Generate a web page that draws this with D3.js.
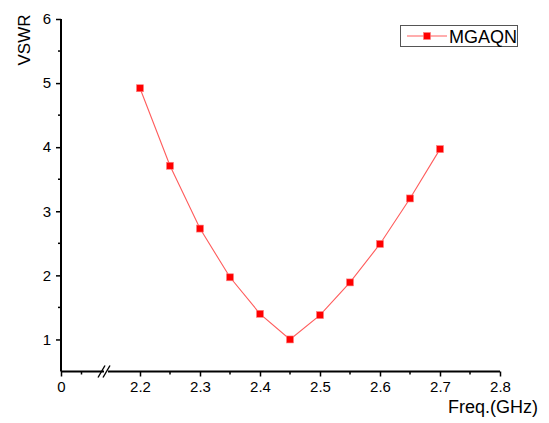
<!DOCTYPE html>
<html>
<head>
<meta charset="utf-8">
<script src="https://cdn.jsdelivr.net/npm/d3@7"></script>
<style>
  body { margin: 0; background: #fff; }
  text { font-family: "Liberation Sans", Arial, sans-serif; fill: #000; }
</style>
</head>
<body>
<div id="chart"></div>
<script>
const freq = [2.2, 2.25, 2.3, 2.35, 2.4, 2.45, 2.5, 2.55, 2.6, 2.65, 2.7],
    vswr = [4.92, 3.71, 2.73, 1.97, 1.40, 1.00, 1.38, 1.89, 2.49, 3.20, 3.97],
    xMajor = [0, 2.2, 2.3, 2.4, 2.5, 2.6, 2.7, 2.8],
    xMinor = [0.05, 2.25, 2.35, 2.45, 2.55, 2.65, 2.75],
    yMajor = [1, 2, 3, 4, 5, 6],
    yMinor = [1.5, 2.5, 3.5, 4.5, 5.5],
    seriesName = "MGAQN";

const width = 549, height = 423;

const svg = d3.select("#chart").append("svg")
    .attr("width", width)
    .attr("height", height);

// broken x axis: 0..0.1 then 2.15..2.8
const x = d3.scaleLinear()
    .domain([0, 0.1, 2.15, 2.8])
    .range([61, 102, 110, 500]);

const y = d3.scaleLinear()
    .domain([0.5, 6])
    .range([371.5, 19]);

const line = d3.line()
    .x((d, i) => x(freq[i]))
    .y((d) => y(d));

svg.append("path")
    .datum(vswr)
    .attr("fill", "none")
    .attr("stroke", "#ff5c5c")
    .attr("stroke-width", 1.1)
    .attr("d", line);

svg.selectAll(".pt")
    .data(vswr)
    .enter().append("rect")
    .attr("class", "pt")
    .attr("x", (d, i) => x(freq[i]) - 3.5)
    .attr("y", (d) => y(d) - 3.5)
    .attr("width", 7)
    .attr("height", 7)
    .attr("fill", "#f00")
    .attr("stroke", "#ff8080")
    .attr("stroke-width", 0.6);

// y axis
const yAxis = svg.append("g").attr("transform", "translate(61,0)");
yAxis.call(d3.axisLeft(y).tickValues(yMajor).tickSize(5).tickPadding(5).tickFormat(d3.format("d")));
yAxis.selectAll(".minor")
    .data(yMinor)
    .enter().append("line")
    .attr("class", "minor")
    .attr("x1", -3).attr("x2", 0)
    .attr("y1", (d) => y(d)).attr("y2", (d) => y(d));

// x axis
const xAxis = svg.append("g").attr("transform", "translate(0," + y(0.5) + ")");
xAxis.call(d3.axisBottom(x).tickValues(xMajor).tickSize(5).tickPadding(5)
    .tickFormat((d) => d === 0 ? "0" : d3.format(".1f")(d)));
xAxis.selectAll(".minor")
    .data(xMinor)
    .enter().append("line")
    .attr("class", "minor")
    .attr("x1", (d) => x(d)).attr("x2", (d) => x(d))
    .attr("y1", 0).attr("y2", 3);

[yAxis, xAxis].forEach((g) => {
  g.select(".domain").attr("stroke", "#000").attr("stroke-width", 2);
  g.selectAll(".tick line, .minor").attr("stroke", "#000").attr("stroke-width", 1.5);
  g.selectAll(".tick text").style("font-size", "15px").style("font-family", "Liberation Sans, Arial, sans-serif");
});
yAxis.select(".domain").attr("d", "M0," + y(0.5) + "V" + y(6));
xAxis.select(".domain").attr("d", "M" + x(0) + ",0H" + x(2.8));

// axis break marks
xAxis.append("rect")
    .attr("x", 104).attr("y", -2).attr("width", 4).attr("height", 4)
    .attr("fill", "#fff");
[101, 106].forEach((bx) => {
  xAxis.append("line")
      .attr("x1", bx - 3).attr("y1", 6)
      .attr("x2", bx + 4).attr("y2", -6)
      .attr("stroke", "#000").attr("stroke-width", 1.4);
});

// axis titles
svg.append("text")
    .attr("transform", "translate(30,40) rotate(-90)")
    .attr("text-anchor", "middle")
    .style("font-size", "17px")
    .text("VSWR");

svg.append("text")
    .attr("x", 538).attr("y", 413)
    .attr("text-anchor", "end")
    .style("font-size", "18px")
    .text("Freq.(GHz)");

// legend
const legend = svg.append("g");
legend.append("rect")
    .attr("x", 400.5).attr("y", 25.5).attr("width", 117).attr("height", 21)
    .attr("fill", "#fff").attr("stroke", "#555").attr("stroke-width", 1);
legend.append("line")
    .attr("x1", 407).attr("x2", 447).attr("y1", 36).attr("y2", 36)
    .attr("stroke", "#ff5c5c").attr("stroke-width", 1.1);
legend.append("rect")
    .attr("x", 423.5).attr("y", 32.5).attr("width", 7).attr("height", 7)
    .attr("fill", "#f00").attr("stroke", "#ff8080").attr("stroke-width", 0.6);
legend.append("text")
    .attr("x", 449).attr("y", 42.5)
    .style("font-size", "18px")
    .text(seriesName);
</script>
</body>
</html>
